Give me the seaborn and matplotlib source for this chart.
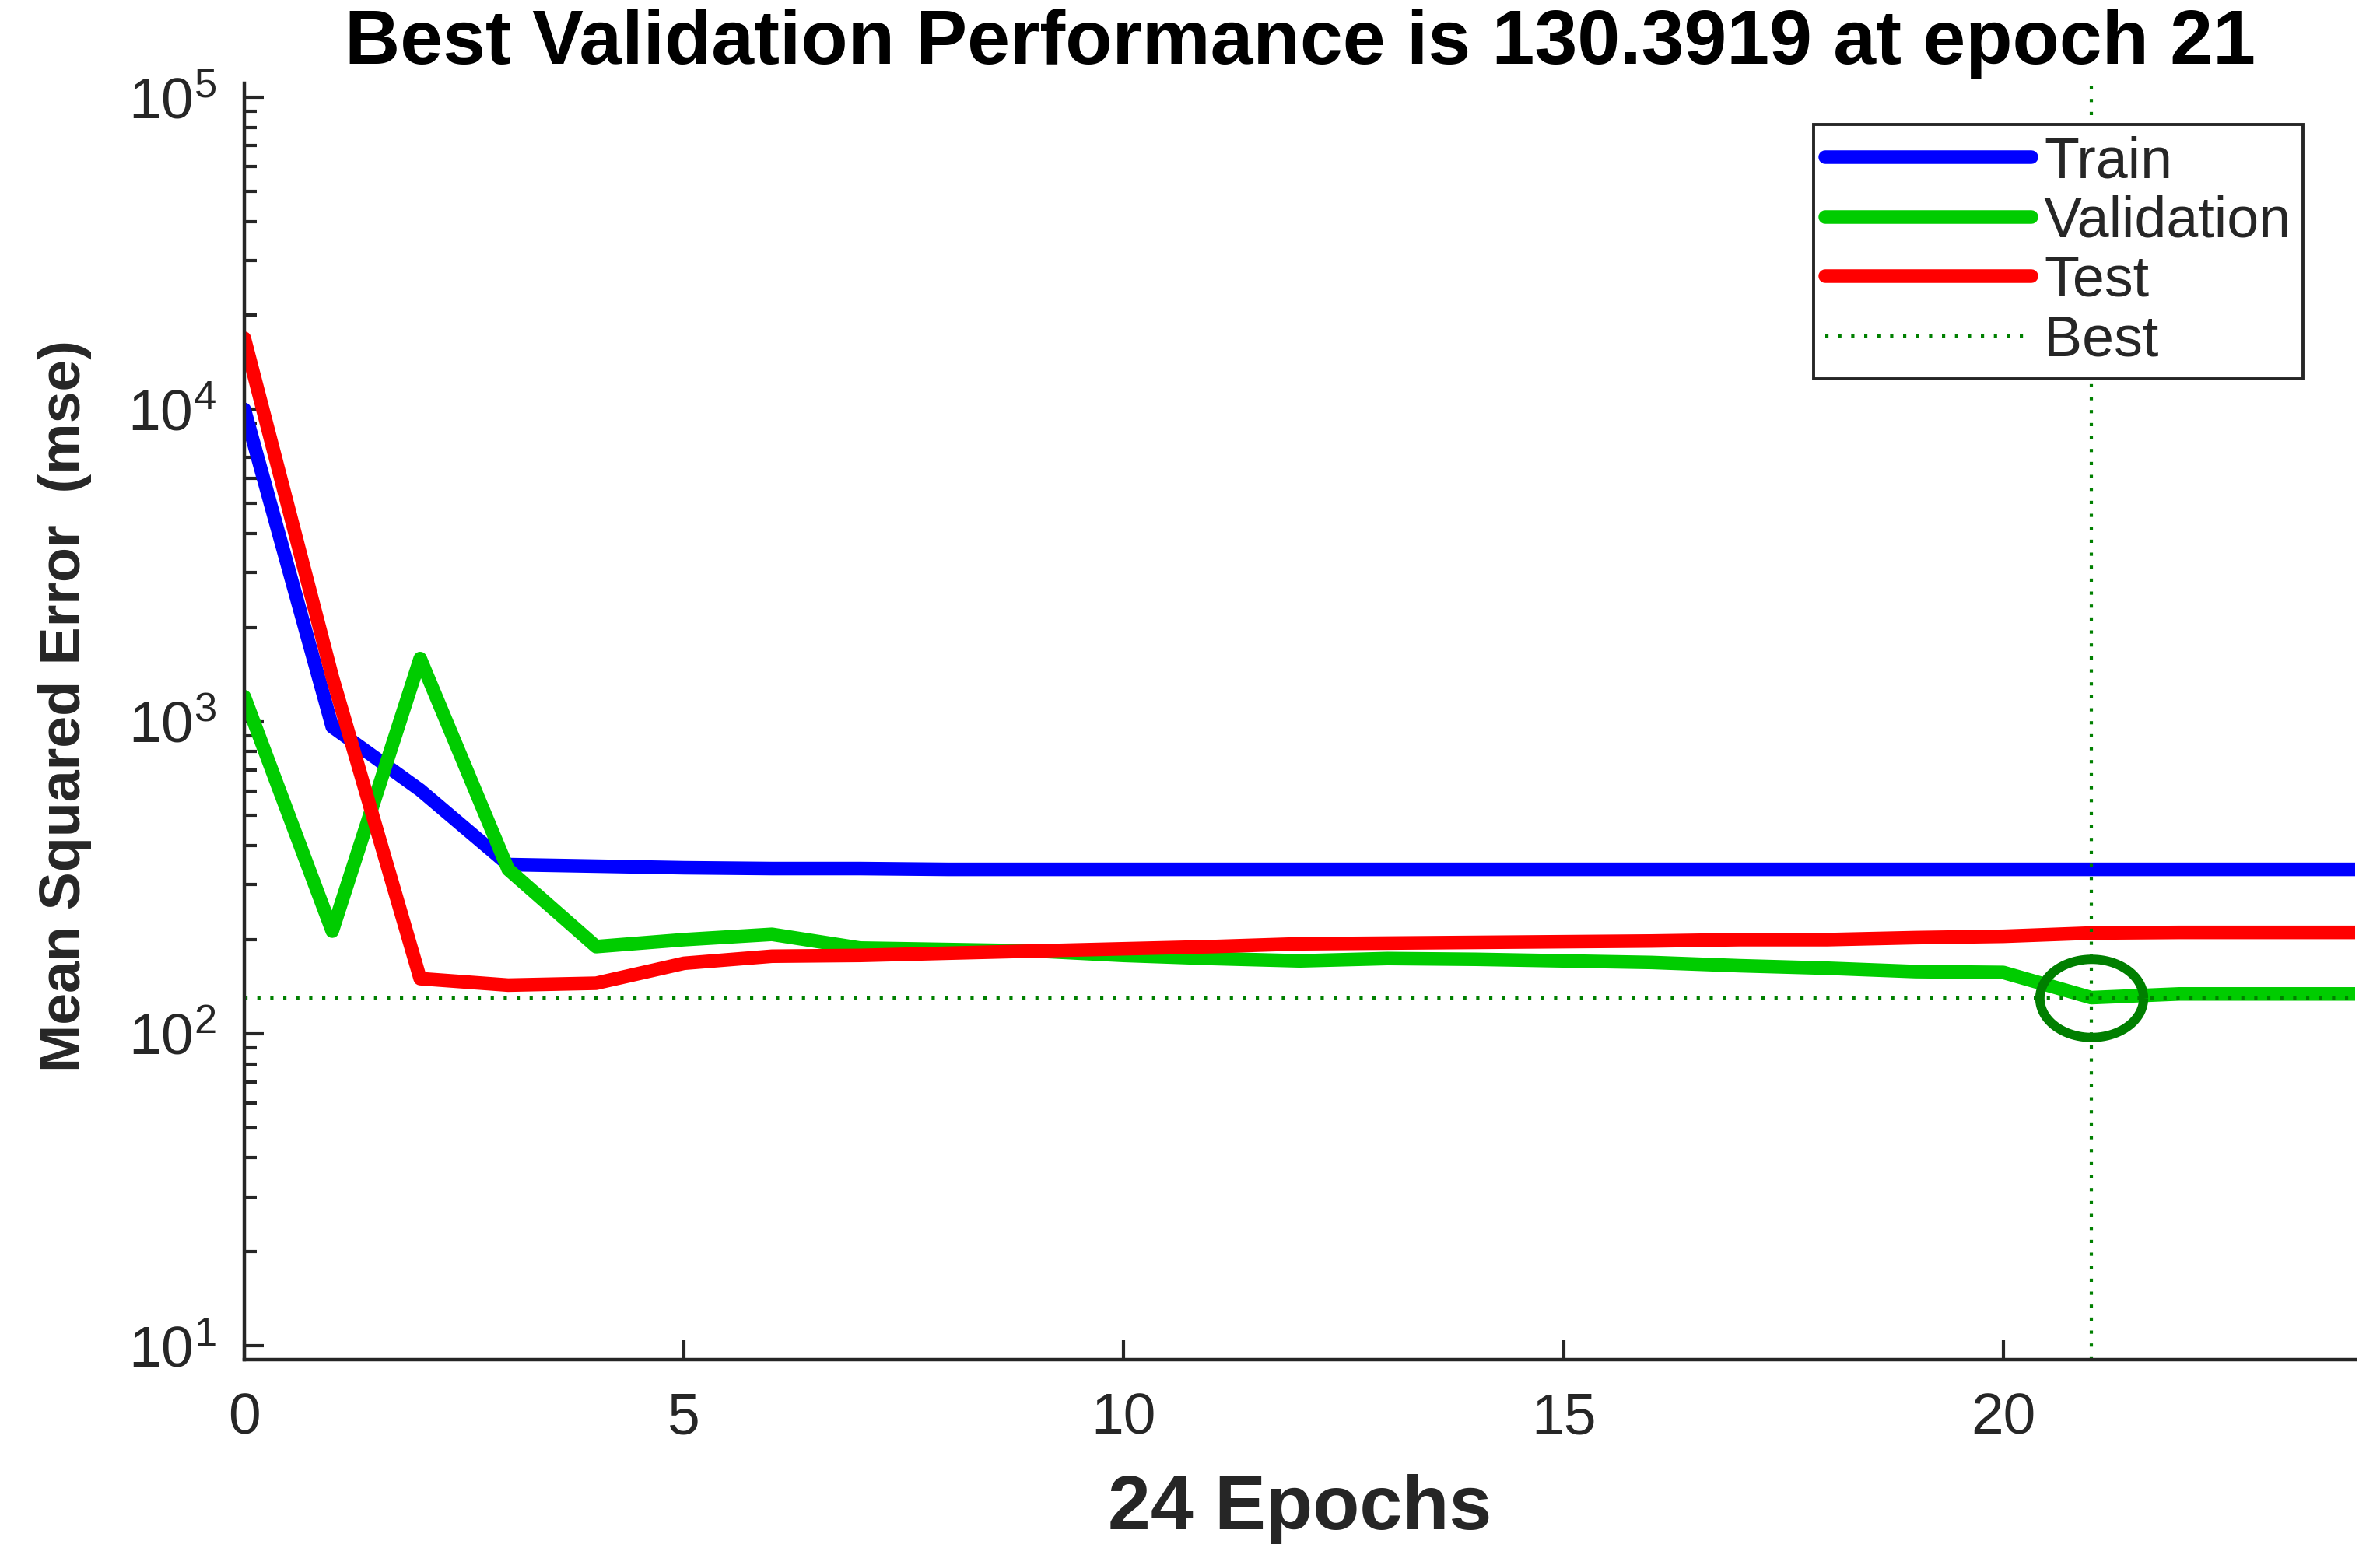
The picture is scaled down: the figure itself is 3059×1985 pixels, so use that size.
import numpy as np
import pandas as pd
import seaborn as sns
import matplotlib.pyplot as plt

sns.set_style('ticks')
plt.rcParams['font.family'] = ['Liberation Sans', 'DejaVu Sans']
plt.rcParams['mathtext.fontset'] = 'custom'
plt.rcParams['mathtext.rm'] = 'Liberation Sans'
plt.rcParams['mathtext.it'] = 'Liberation Sans:italic'
plt.rcParams['mathtext.bf'] = 'Liberation Sans:bold'

# performance per epoch
epochs = list(range(25))
train = [10000, 961, 603, 348, 344, 340, 338, 338, 336, 336, 336, 336, 336,
         336, 336, 336, 336, 336, 336, 336, 336, 336, 336, 336, 336]
validation = [1200, 213, 1590, 336, 190, 200, 208, 188, 186, 184, 178, 174, 171,
              174, 173, 171, 169, 165, 162, 158, 157, 130.3919, 134, 134, 134]
test = [16900, 1390, 150, 143, 145, 168, 177, 178, 181, 184, 187, 190, 194,
        195, 196, 197, 198, 200, 200, 203, 205, 210, 211, 211, 211]

best_epoch = 21
best_perf = 130.3919

df = pd.DataFrame({'epoch': epochs, 'Train': train, 'Validation': validation, 'Test': test})

fig = plt.figure(figsize=(3059 / 200, 1985 / 200), dpi=200)
ax = fig.add_axes([0.10265, 0.1194, 0.98954 - 0.10265, 0.9461 - 0.1194])

sns.lineplot(x='epoch', y='Train', data=df, ax=ax, color='#0000ff', lw=6.3, label='Train')
sns.lineplot(x='epoch', y='Validation', data=df, ax=ax, color='#00cc00', lw=6.3, label='Validation')
sns.lineplot(x='epoch', y='Test', data=df, ax=ax, color='#ff0000', lw=6.3, label='Test')

best_col = '#007f00'
ax.axhline(best_perf, color=best_col, lw=1.5, ls=(0, (1, 3)), label='Best')
ax.axvline(best_epoch, color=best_col, lw=1.5, ls=(0, (1, 3)))

# circle round the best point (drawn a bit wider than tall, like the original)
t = np.linspace(0, 2 * np.pi, 100)
ell = np.column_stack([np.cos(t), 0.754 * np.sin(t)])
ax.plot([best_epoch], [best_perf], marker=ell, markersize=48, mfc='none',
        mec=best_col, mew=4.3, ls='none')

ax.set_yscale('log')
ax.set_xlim(0, 24)
ax.set_ylim(9.02, 1.109e5)
ax.set_xticks([0, 5, 10, 15, 20])

for s in ['top', 'right']:
    ax.spines[s].set_visible(False)
for s in ['left', 'bottom']:
    ax.spines[s].set_linewidth(1.6)
    ax.spines[s].set_color('#262626')

ax.tick_params(axis='both', which='major', direction='in', length=9, width=1.5,
               color='#262626', labelsize=27, labelcolor='#262626')
ax.tick_params(axis='y', which='minor', direction='in', length=5.6, width=1.5, color='#262626')
ax.tick_params(axis='y', which='major', pad=13)
ax.tick_params(axis='x', which='major', pad=15)

ax.set_title('Best Validation Performance is 130.3919 at epoch 21', fontsize=35.5,
             fontweight='bold', color='black', y=1.0, pad=9)
ax.set_xlabel('24 Epochs', fontsize=35.5, fontweight='bold', color='#262626')
ax.set_ylabel('Mean Squared Error  (mse)', fontsize=26.5, fontweight='bold', color='#262626')
ax.xaxis.set_label_coords(0.5, -0.0896)
ax.yaxis.set_label_coords(-0.0722, 0.512)

leg = ax.legend(loc='upper right', bbox_to_anchor=(0.9753, 0.968), borderaxespad=0,
                fontsize=26.5, handlelength=3.6, handletextpad=0.22, borderpad=0.2,
                labelspacing=0.1, fancybox=False, framealpha=1, edgecolor='#262626')
leg.get_frame().set_linewidth(1.4)

fig.savefig('out.png', dpi=200, facecolor='white')
